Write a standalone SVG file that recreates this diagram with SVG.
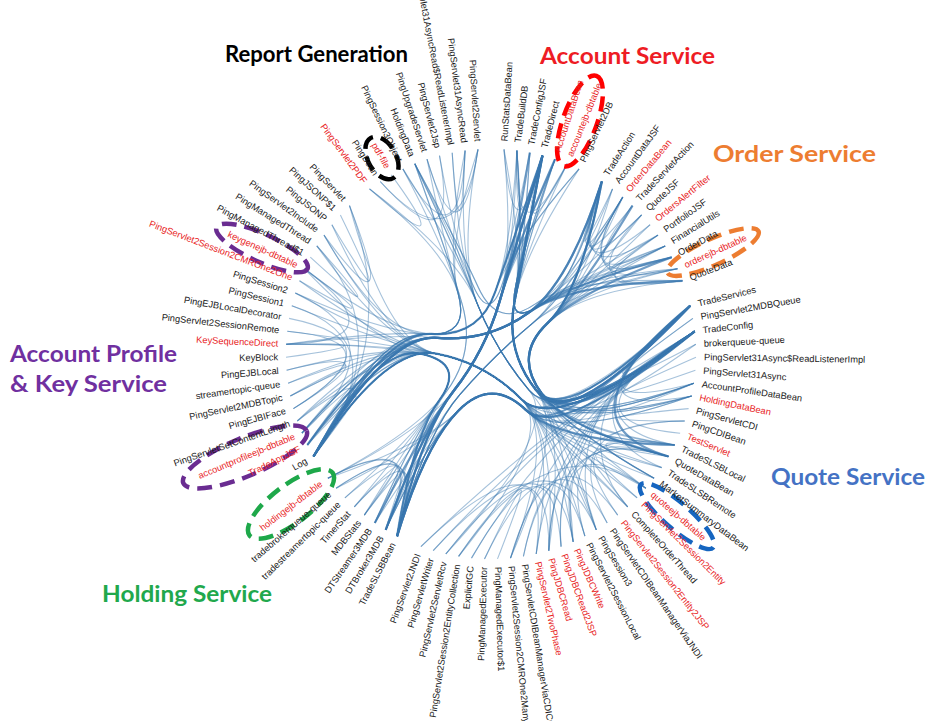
<svg xmlns="http://www.w3.org/2000/svg" width="930" height="721" viewBox="0 0 930 721">
<style>
.lb{font-family:"Liberation Sans",Arial,Helvetica,sans-serif;font-size:9.3px;fill:#1a1a1a}
.rd{fill:#e8231e}
.f{text-anchor:end}
.ttl{font-family:Lato,"Liberation Sans",sans-serif;font-weight:700;font-size:23px}
#links path{fill:none;stroke:#3a77b0;stroke-opacity:.45;stroke-width:1.1}
#links path.t{stroke-width:2.2;stroke-opacity:.72}
.ring{fill:none;stroke-width:4.5;stroke-dasharray:15 8}
</style>
<rect width="930" height="721" fill="#fff"/>
<g id="links">
<path d="M504,149.4 Q513.6,266.9 542.5,155.6"/>
<path d="M516.9,150.6 Q513.6,266.9 542.5,155.6"/>
<path d="M542.5,155.6 Q513.6,266.9 555,159.2"/>
<path d="M542.5,155.6 Q513.6,266.9 567.2,163.7"/>
<path d="M516.9,150.6 Q513.6,266.9 567.2,163.7"/>
<path d="M601.8,181.5 Q560.9,297.3 622.8,197"/>
<path d="M601.8,181.5 Q560.9,297.3 612.5,188.9"/>
<path d="M601.8,181.5 Q560.9,297.3 632.5,205.6"/>
<path d="M601.8,181.5 Q560.9,297.3 641.6,214.9"/>
<path d="M601.8,181.5 Q560.9,297.3 650.1,224.7"/>
<path d="M601.8,181.5 Q560.9,297.3 658,235.1"/>
<path d="M658,235.1 Q560.9,297.3 682.5,280.8"/>
<path d="M622.8,197 Q560.9,297.3 671.7,257.2"/>
<path d="M622.8,197 Q560.9,297.3 677.5,268.8"/>
<path d="M658,235.1 Q560.9,297.3 665.2,245.9"/>
<path d="M641.6,214.9 Q560.9,297.3 682.5,280.8"/>
<path d="M632.5,205.6 Q560.9,297.3 665.2,245.9"/>
<path d="M692.9,318.4 Q551,421.1 695.8,344.2"/>
<path d="M692.9,318.4 Q551,421.1 694.7,331.3"/>
<path d="M696,357.3 Q551,421.1 695.4,370.2"/>
<path d="M688.6,408.6 Q551,421.1 684.7,421"/>
<path d="M607.2,522.9 Q551,421.1 684.7,421"/>
<path d="M523.4,556.4 Q551,421.1 684.7,421"/>
<path d="M637.1,497.8 Q551,421.1 645.9,488.2"/>
<path d="M617.7,515.1 Q551,421.1 668.5,456.5"/>
<path d="M584.9,536.2 Q551,421.1 674.7,445"/>
<path d="M573.2,541.8 Q551,421.1 694.7,331.3"/>
<path d="M561.1,546.6 Q551,421.1 694.7,331.3"/>
<path d="M548.8,550.7 Q551,421.1 694.7,331.3"/>
<path d="M561.1,546.6 Q551,421.1 668.5,456.5"/>
<path d="M548.8,550.7 Q551,421.1 668.5,456.5"/>
<path d="M573.2,541.8 Q551,421.1 645.9,488.2"/>
<path d="M536.2,554 Q551,421.1 694.7,331.3"/>
<path d="M510.5,558.1 Q551,421.1 694.7,331.3"/>
<path d="M497.5,558.9 Q551,421.1 484.5,558.9"/>
<path d="M458.6,556.4 Q551,421.1 645.9,488.2"/>
<path d="M445.8,554 Q551,421.1 694.7,331.3"/>
<path d="M674.7,445 Q551,421.1 690.2,305.7"/>
<path d="M661.7,467.6 Q551,421.1 690.2,305.7"/>
<path d="M627.7,506.8 Q551,421.1 690.2,305.7"/>
<path d="M654.1,478.2 Q551,421.1 668.5,456.5"/>
<path d="M690.2,305.7 Q551,421.1 693.9,383.2"/>
<path d="M690.2,305.7 Q551,421.1 691.7,396"/>
<path class="t" d="M690.2,305.7 Q551,421.1 668.5,456.5"/>
<path d="M680.1,433.2 Q551,421.1 694.7,331.3"/>
<path d="M596.3,529.9 Q551,421.1 690.2,305.7"/>
<path d="M471.5,558.1 Q551,421.1 694.7,331.3"/>
<path d="M433.2,550.7 Q551,421.1 694.7,331.3"/>
<path d="M420.9,546.6 Q551,421.1 694.7,331.3"/>
<path d="M484.5,558.9 Q551,421.1 584.9,536.2"/>
<path d="M471.5,558.1 Q551,421.1 561.1,546.6"/>
<path d="M445.8,554 Q551,421.1 596.3,529.9"/>
<path d="M433.2,550.7 Q551,421.1 573.2,541.8"/>
<path d="M420.9,546.6 Q551,421.1 548.8,550.7"/>
<path d="M458.6,556.4 Q551,421.1 536.2,554"/>
<path d="M510.5,558.1 Q551,421.1 607.2,522.9"/>
<path d="M523.4,556.4 Q551,421.1 617.7,515.1"/>
<path d="M327.9,478.2 Q433.1,422.9 397.1,536.2"/>
<path d="M336.1,488.2 Q433.1,422.9 385.7,529.9"/>
<path d="M344.9,497.8 Q433.1,422.9 374.8,522.9"/>
<path d="M327.9,478.2 Q433.1,422.9 385.7,529.9"/>
<path d="M336.1,488.2 Q433.1,422.9 397.1,536.2"/>
<path d="M385.7,529.9 Q433.1,422.9 364.3,515.1"/>
<path d="M364.3,515.1 Q433.1,422.9 354.3,506.8"/>
<path d="M354.3,506.8 Q433.1,422.9 397.1,536.2"/>
<path d="M290.3,396 Q401.9,341.2 288.1,383.2"/>
<path d="M293.4,408.6 Q401.9,341.2 286.6,370.2"/>
<path d="M293.4,408.6 Q401.9,341.2 289.1,318.4"/>
<path d="M293.4,408.6 Q401.9,341.2 287.3,331.3"/>
<path d="M286,357.3 Q401.9,341.2 286.2,344.2"/>
<path d="M286.2,344.2 Q401.9,341.2 304.5,268.8"/>
<path d="M310.3,257.2 Q401.9,341.2 316.8,245.9"/>
<path d="M331.9,224.7 Q401.9,341.2 340.4,214.9"/>
<path d="M299.5,280.8 Q401.9,341.2 304.5,268.8"/>
<path d="M324,235.1 Q401.9,341.2 349.5,205.6"/>
<path d="M313.5,456.5 Q401.9,341.2 297.3,421"/>
<path d="M313.5,456.5 Q401.9,341.2 307.3,445"/>
<path d="M313.5,456.5 Q401.9,341.2 291.8,305.7"/>
<path d="M313.5,456.5 Q401.9,341.2 349.5,205.6"/>
<path d="M313.5,456.5 Q401.9,341.2 316.8,245.9"/>
<path d="M301.9,433.2 Q401.9,341.2 295.3,293.1"/>
<path d="M369.5,188.9 Q460.2,269.4 391.3,174.9"/>
<path d="M380.2,181.5 Q460.2,269.4 439.5,155.6"/>
<path d="M380.2,181.5 Q460.2,269.4 478,149.4"/>
<path d="M452.2,152.7 Q460.2,269.4 465.1,150.6"/>
<path d="M402.9,168.9 Q460.2,269.4 465.1,150.6"/>
<path d="M427,159.2 Q460.2,269.4 478,149.4"/>
<path d="M542.5,155.6 Q524.6,242.5 515.7,286 Q506.8,329.4 542.7,303.3 Q578.5,277.1 622.8,197"/>
<path d="M542.5,155.6 Q524.6,242.5 515.7,286 Q506.8,329.4 542.7,303.3 Q578.5,277.1 665.2,245.9"/>
<path d="M542.5,155.6 Q524.6,242.5 515.7,286 Q506.8,329.4 542.7,303.3 Q578.5,277.1 677.5,268.8"/>
<path d="M529.8,152.7 Q524.6,242.5 515.7,286 Q506.8,329.4 542.7,303.3 Q578.5,277.1 601.8,181.5"/>
<path d="M555,159.2 Q524.6,242.5 515.7,286 Q506.8,329.4 542.7,303.3 Q578.5,277.1 612.5,188.9"/>
<path d="M516.9,150.6 Q524.6,242.5 515.7,286 Q506.8,329.4 542.7,303.3 Q578.5,277.1 601.8,181.5"/>
<path d="M555,159.2 Q524.6,242.5 515.7,286 Q506.8,329.4 542.7,303.3 Q578.5,277.1 671.7,257.2"/>
<path class="t" d="M542.5,155.6 Q523.8,253.1 514.5,301.9 Q505.1,350.6 535.8,389.7 Q566.4,428.7 694.7,331.3"/>
<path class="t" d="M542.5,155.6 Q523.8,253.1 514.5,301.9 Q505.1,350.6 535.8,389.7 Q566.4,428.7 668.5,456.5"/>
<path d="M542.5,155.6 Q523.8,253.1 514.5,301.9 Q505.1,350.6 535.8,389.7 Q566.4,428.7 691.7,396"/>
<path d="M542.5,155.6 Q523.8,253.1 514.5,301.9 Q505.1,350.6 535.8,389.7 Q566.4,428.7 693.9,383.2"/>
<path d="M542.5,155.6 Q523.8,253.1 514.5,301.9 Q505.1,350.6 535.8,389.7 Q566.4,428.7 654.1,478.2"/>
<path d="M542.5,155.6 Q523.8,253.1 514.5,301.9 Q505.1,350.6 535.8,389.7 Q566.4,428.7 645.9,488.2"/>
<path class="t" d="M542.5,155.6 Q523.8,253.1 514.5,301.9 Q505.1,350.6 535.8,389.7 Q566.4,428.7 690.2,305.7"/>
<path d="M542.5,155.6 Q523.8,253.1 514.5,301.9 Q505.1,350.6 535.8,389.7 Q566.4,428.7 627.7,506.8"/>
<path d="M529.8,152.7 Q523.8,253.1 514.5,301.9 Q505.1,350.6 535.8,389.7 Q566.4,428.7 694.7,331.3"/>
<path d="M555,159.2 Q523.8,253.1 514.5,301.9 Q505.1,350.6 535.8,389.7 Q566.4,428.7 690.2,305.7"/>
<path d="M567.2,163.7 Q523.8,253.1 514.5,301.9 Q505.1,350.6 535.8,389.7 Q566.4,428.7 674.7,445"/>
<path d="M516.9,150.6 Q523.8,253.1 514.5,301.9 Q505.1,350.6 535.8,389.7 Q566.4,428.7 694.7,331.3"/>
<path d="M516.9,150.6 Q523.8,253.1 514.5,301.9 Q505.1,350.6 535.8,389.7 Q566.4,428.7 690.2,305.7"/>
<path d="M504,149.4 Q523.8,253.1 514.5,301.9 Q505.1,350.6 535.8,389.7 Q566.4,428.7 694.7,331.3"/>
<path d="M579.1,168.9 Q523.8,253.1 514.5,301.9 Q505.1,350.6 535.8,389.7 Q566.4,428.7 694.7,331.3"/>
<path d="M555,159.2 Q523.8,253.1 514.5,301.9 Q505.1,350.6 535.8,389.7 Q566.4,428.7 693.9,383.2"/>
<path d="M542.5,155.6 Q523.8,253.1 514.5,301.9 Q505.1,350.6 535.8,389.7 Q566.4,428.7 548.8,550.7"/>
<path d="M542.5,155.6 Q523.8,253.1 514.5,301.9 Q505.1,350.6 535.8,389.7 Q566.4,428.7 573.2,541.8"/>
<path d="M542.5,155.6 Q523.8,253.1 514.5,301.9 Q505.1,350.6 535.8,389.7 Q566.4,428.7 596.3,529.9"/>
<path d="M516.9,150.6 Q523.8,253.1 514.5,301.9 Q505.1,350.6 535.8,389.7 Q566.4,428.7 510.5,558.1"/>
<path class="t" d="M542.5,155.6 Q513.7,253.2 499.4,302.1 Q485,350.9 453.6,391 Q422.1,431 397.1,536.2"/>
<path class="t" d="M542.5,155.6 Q513.7,253.2 499.4,302.1 Q485,350.9 453.6,391 Q422.1,431 385.7,529.9"/>
<path class="t" d="M542.5,155.6 Q513.7,253.2 499.4,302.1 Q485,350.9 453.6,391 Q422.1,431 374.8,522.9"/>
<path d="M542.5,155.6 Q513.7,253.2 499.4,302.1 Q485,350.9 453.6,391 Q422.1,431 327.9,478.2"/>
<path d="M567.2,163.7 Q513.7,253.2 499.4,302.1 Q485,350.9 453.6,391 Q422.1,431 397.1,536.2"/>
<path class="t" d="M555,159.2 Q513.7,253.2 499.4,302.1 Q485,350.9 453.6,391 Q422.1,431 397.1,536.2"/>
<path d="M516.9,150.6 Q513.7,253.2 499.4,302.1 Q485,350.9 453.6,391 Q422.1,431 397.1,536.2"/>
<path d="M504,149.4 Q513.7,253.2 499.4,302.1 Q485,350.9 453.6,391 Q422.1,431 397.1,536.2"/>
<path class="t" d="M529.8,152.7 Q513.7,253.2 499.4,302.1 Q485,350.9 453.6,391 Q422.1,431 385.7,529.9"/>
<path d="M555,159.2 Q513.7,253.2 499.4,302.1 Q485,350.9 453.6,391 Q422.1,431 385.7,529.9"/>
<path d="M542.5,155.6 Q513.7,253.2 499.4,302.1 Q485,350.9 453.6,391 Q422.1,431 364.3,515.1"/>
<path class="t" d="M542.5,155.6 Q511,246.3 495.3,291.6 Q479.6,336.9 431.7,333.9 Q383.8,330.9 313.5,456.5"/>
<path d="M542.5,155.6 Q511,246.3 495.3,291.6 Q479.6,336.9 431.7,333.9 Q383.8,330.9 286.2,344.2"/>
<path d="M542.5,155.6 Q511,246.3 495.3,291.6 Q479.6,336.9 431.7,333.9 Q383.8,330.9 304.5,268.8"/>
<path d="M542.5,155.6 Q511,246.3 495.3,291.6 Q479.6,336.9 431.7,333.9 Q383.8,330.9 301.9,433.2"/>
<path d="M529.8,152.7 Q511,246.3 495.3,291.6 Q479.6,336.9 431.7,333.9 Q383.8,330.9 307.3,445"/>
<path d="M516.9,150.6 Q511,246.3 495.3,291.6 Q479.6,336.9 431.7,333.9 Q383.8,330.9 313.5,456.5"/>
<path d="M579.1,168.9 Q511,246.3 495.3,291.6 Q479.6,336.9 431.7,333.9 Q383.8,330.9 313.5,456.5"/>
<path d="M542.5,155.6 Q516,240.1 502.8,282.4 Q489.6,324.7 472.4,283.9 Q455.2,243 414.8,163.7"/>
<path d="M579.1,168.9 Q516,240.1 502.8,282.4 Q489.6,324.7 472.4,283.9 Q455.2,243 439.5,155.6"/>
<path class="t" d="M601.8,181.5 Q581.7,290.3 547.5,323.1 Q513.2,355.8 541.8,393.6 Q570.4,431.3 690.2,305.7"/>
<path class="t" d="M601.8,181.5 Q581.7,290.3 547.5,323.1 Q513.2,355.8 541.8,393.6 Q570.4,431.3 694.7,331.3"/>
<path d="M601.8,181.5 Q581.7,290.3 547.5,323.1 Q513.2,355.8 541.8,393.6 Q570.4,431.3 668.5,456.5"/>
<path d="M601.8,181.5 Q581.7,290.3 547.5,323.1 Q513.2,355.8 541.8,393.6 Q570.4,431.3 654.1,478.2"/>
<path d="M601.8,181.5 Q581.7,290.3 547.5,323.1 Q513.2,355.8 541.8,393.6 Q570.4,431.3 691.7,396"/>
<path d="M601.8,181.5 Q581.7,290.3 547.5,323.1 Q513.2,355.8 541.8,393.6 Q570.4,431.3 693.9,383.2"/>
<path class="t" d="M632.5,205.6 Q581.7,290.3 547.5,323.1 Q513.2,355.8 541.8,393.6 Q570.4,431.3 690.2,305.7"/>
<path class="t" d="M671.7,257.2 Q581.7,290.3 547.5,323.1 Q513.2,355.8 541.8,393.6 Q570.4,431.3 690.2,305.7"/>
<path d="M682.5,280.8 Q581.7,290.3 547.5,323.1 Q513.2,355.8 541.8,393.6 Q570.4,431.3 668.5,456.5"/>
<path d="M622.8,197 Q581.7,290.3 547.5,323.1 Q513.2,355.8 541.8,393.6 Q570.4,431.3 694.7,331.3"/>
<path d="M665.2,245.9 Q581.7,290.3 547.5,323.1 Q513.2,355.8 541.8,393.6 Q570.4,431.3 654.1,478.2"/>
<path d="M677.5,268.8 Q581.7,290.3 547.5,323.1 Q513.2,355.8 541.8,393.6 Q570.4,431.3 674.7,445"/>
<path d="M641.6,214.9 Q581.7,290.3 547.5,323.1 Q513.2,355.8 541.8,393.6 Q570.4,431.3 668.5,456.5"/>
<path d="M658,235.1 Q581.7,290.3 547.5,323.1 Q513.2,355.8 541.8,393.6 Q570.4,431.3 691.7,396"/>
<path d="M612.5,188.9 Q581.7,290.3 547.5,323.1 Q513.2,355.8 541.8,393.6 Q570.4,431.3 693.9,383.2"/>
<path d="M650.1,224.7 Q581.7,290.3 547.5,323.1 Q513.2,355.8 541.8,393.6 Q570.4,431.3 694.7,331.3"/>
<path d="M622.8,197 Q571.6,290.4 532.4,323.3 Q493.1,356.1 459.6,394.8 Q426.1,433.5 397.1,536.2"/>
<path d="M677.5,268.8 Q571.6,290.4 532.4,323.3 Q493.1,356.1 459.6,394.8 Q426.1,433.5 397.1,536.2"/>
<path d="M665.2,245.9 Q571.6,290.4 532.4,323.3 Q493.1,356.1 459.6,394.8 Q426.1,433.5 397.1,536.2"/>
<path d="M601.8,181.5 Q571.6,290.4 532.4,323.3 Q493.1,356.1 459.6,394.8 Q426.1,433.5 397.1,536.2"/>
<path d="M622.8,197 Q571.6,290.4 532.4,323.3 Q493.1,356.1 459.6,394.8 Q426.1,433.5 385.7,529.9"/>
<path class="t" d="M601.8,181.5 Q569,283.4 528.4,312.8 Q487.7,342.1 437.8,337.8 Q387.9,333.4 313.5,456.5"/>
<path d="M665.2,245.9 Q569,283.4 528.4,312.8 Q487.7,342.1 437.8,337.8 Q387.9,333.4 313.5,456.5"/>
<path class="t" d="M671.7,257.2 Q569,283.4 528.4,312.8 Q487.7,342.1 437.8,337.8 Q387.9,333.4 313.5,456.5"/>
<path class="t" d="M682.5,280.8 Q569,283.4 528.4,312.8 Q487.7,342.1 437.8,337.8 Q387.9,333.4 313.5,456.5"/>
<path class="t" d="M601.8,181.5 Q569,283.4 528.4,312.8 Q487.7,342.1 437.8,337.8 Q387.9,333.4 307.3,445"/>
<path d="M658,235.1 Q569,283.4 528.4,312.8 Q487.7,342.1 437.8,337.8 Q387.9,333.4 307.3,445"/>
<path d="M641.6,214.9 Q569,283.4 528.4,312.8 Q487.7,342.1 437.8,337.8 Q387.9,333.4 307.3,445"/>
<path d="M677.5,268.8 Q569,283.4 528.4,312.8 Q487.7,342.1 437.8,337.8 Q387.9,333.4 301.9,433.2"/>
<path d="M671.7,257.2 Q569,283.4 528.4,312.8 Q487.7,342.1 437.8,337.8 Q387.9,333.4 301.9,433.2"/>
<path d="M682.5,280.8 Q569,283.4 528.4,312.8 Q487.7,342.1 437.8,337.8 Q387.9,333.4 297.3,421"/>
<path d="M677.5,268.8 Q569,283.4 528.4,312.8 Q487.7,342.1 437.8,337.8 Q387.9,333.4 286.2,344.2"/>
<path d="M622.8,197 Q569,283.4 528.4,312.8 Q487.7,342.1 437.8,337.8 Q387.9,333.4 313.5,456.5"/>
<path d="M671.7,257.2 Q573.9,277.3 535.8,303.6 Q497.7,329.9 478.5,287.8 Q459.2,245.6 414.8,163.7"/>
<path d="M682.5,280.8 Q573.9,277.3 535.8,303.6 Q497.7,329.9 478.5,287.8 Q459.2,245.6 414.8,163.7"/>
<path class="t" d="M690.2,305.7 Q559.5,442 525.5,409.6 Q491.4,377.2 458.4,410.7 Q425.3,444.1 397.1,536.2"/>
<path class="t" d="M694.7,331.3 Q559.5,442 525.5,409.6 Q491.4,377.2 458.4,410.7 Q425.3,444.1 397.1,536.2"/>
<path d="M668.5,456.5 Q559.5,442 525.5,409.6 Q491.4,377.2 458.4,410.7 Q425.3,444.1 397.1,536.2"/>
<path d="M691.7,396 Q559.5,442 525.5,409.6 Q491.4,377.2 458.4,410.7 Q425.3,444.1 397.1,536.2"/>
<path d="M693.9,383.2 Q559.5,442 525.5,409.6 Q491.4,377.2 458.4,410.7 Q425.3,444.1 397.1,536.2"/>
<path d="M654.1,478.2 Q559.5,442 525.5,409.6 Q491.4,377.2 458.4,410.7 Q425.3,444.1 397.1,536.2"/>
<path class="t" d="M674.7,445 Q559.5,442 525.5,409.6 Q491.4,377.2 458.4,410.7 Q425.3,444.1 397.1,536.2"/>
<path d="M661.7,467.6 Q559.5,442 525.5,409.6 Q491.4,377.2 458.4,410.7 Q425.3,444.1 397.1,536.2"/>
<path d="M645.9,488.2 Q559.5,442 525.5,409.6 Q491.4,377.2 458.4,410.7 Q425.3,444.1 397.1,536.2"/>
<path d="M694.7,331.3 Q559.5,442 525.5,409.6 Q491.4,377.2 458.4,410.7 Q425.3,444.1 385.7,529.9"/>
<path d="M674.7,445 Q559.5,442 525.5,409.6 Q491.4,377.2 458.4,410.7 Q425.3,444.1 385.7,529.9"/>
<path d="M694.7,331.3 Q559.5,442 525.5,409.6 Q491.4,377.2 458.4,410.7 Q425.3,444.1 374.8,522.9"/>
<path d="M691.7,396 Q559.5,442 525.5,409.6 Q491.4,377.2 458.4,410.7 Q425.3,444.1 327.9,478.2"/>
<path d="M695.8,344.2 Q559.5,442 525.5,409.6 Q491.4,377.2 458.4,410.7 Q425.3,444.1 336.1,488.2"/>
<path d="M627.7,506.8 Q559.5,442 525.5,409.6 Q491.4,377.2 458.4,410.7 Q425.3,444.1 385.7,529.9"/>
<path d="M690.2,305.7 Q556.8,435 521.4,399.2 Q486,363.3 436.5,353.7 Q387,344 313.5,456.5"/>
<path class="t" d="M694.7,331.3 Q556.8,435 521.4,399.2 Q486,363.3 436.5,353.7 Q387,344 313.5,456.5"/>
<path d="M674.7,445 Q556.8,435 521.4,399.2 Q486,363.3 436.5,353.7 Q387,344 313.5,456.5"/>
<path d="M627.7,506.8 Q556.8,435 521.4,399.2 Q486,363.3 436.5,353.7 Q387,344 313.5,456.5"/>
<path d="M690.2,305.7 Q556.8,435 521.4,399.2 Q486,363.3 436.5,353.7 Q387,344 307.3,445"/>
<path d="M694.7,331.3 Q556.8,435 521.4,399.2 Q486,363.3 436.5,353.7 Q387,344 307.3,445"/>
<path d="M693.9,383.2 Q556.8,435 521.4,399.2 Q486,363.3 436.5,353.7 Q387,344 301.9,433.2"/>
<path d="M694.7,331.3 Q556.8,435 521.4,399.2 Q486,363.3 436.5,353.7 Q387,344 286.2,344.2"/>
<path d="M661.7,467.6 Q556.8,435 521.4,399.2 Q486,363.3 436.5,353.7 Q387,344 287.3,331.3"/>
<path d="M694.7,331.3 Q556.8,435 521.4,399.2 Q486,363.3 436.5,353.7 Q387,344 290.3,396"/>
<path d="M694.7,331.3 Q556.8,435 521.4,399.2 Q486,363.3 436.5,353.7 Q387,344 297.3,421"/>
<path d="M694.7,331.3 Q556.8,435 521.4,399.2 Q486,363.3 436.5,353.7 Q387,344 299.5,280.8"/>
<path d="M694.7,331.3 Q556.8,435 521.4,399.2 Q486,363.3 436.5,353.7 Q387,344 324,235.1"/>
<path d="M694.7,331.3 Q556.8,435 521.4,399.2 Q486,363.3 436.5,353.7 Q387,344 349.5,205.6"/>
<path d="M694.7,331.3 Q556.8,435 521.4,399.2 Q486,363.3 436.5,353.7 Q387,344 331.9,224.7"/>
<path d="M694.7,331.3 Q556.8,435 521.4,399.2 Q486,363.3 436.5,353.7 Q387,344 316.8,245.9"/>
<path d="M573.2,541.8 Q556.8,435 521.4,399.2 Q486,363.3 436.5,353.7 Q387,344 313.5,456.5"/>
<path d="M548.8,550.7 Q556.8,435 521.4,399.2 Q486,363.3 436.5,353.7 Q387,344 313.5,456.5"/>
<path d="M596.3,529.9 Q556.8,435 521.4,399.2 Q486,363.3 436.5,353.7 Q387,344 313.5,456.5"/>
<path d="M536.2,554 Q556.8,435 521.4,399.2 Q486,363.3 436.5,353.7 Q387,344 313.5,456.5"/>
<path d="M510.5,558.1 Q556.8,435 521.4,399.2 Q486,363.3 436.5,353.7 Q387,344 313.5,456.5"/>
<path d="M458.6,556.4 Q556.8,435 521.4,399.2 Q486,363.3 436.5,353.7 Q387,344 313.5,456.5"/>
<path d="M674.7,445 Q556.8,435 521.4,399.2 Q486,363.3 436.5,353.7 Q387,344 286.6,370.2"/>
<path d="M584.9,536.2 Q556.8,435 521.4,399.2 Q486,363.3 436.5,353.7 Q387,344 291.8,305.7"/>
<path d="M637.1,497.8 Q556.8,435 521.4,399.2 Q486,363.3 436.5,353.7 Q387,344 295.3,293.1"/>
<path d="M596.3,529.9 Q561.8,428.9 528.9,390 Q496,351 477.2,303.6 Q458.4,256.2 402.9,168.9"/>
<path d="M445.8,554 Q561.8,428.9 528.9,390 Q496,351 477.2,303.6 Q458.4,256.2 478,149.4"/>
<path d="M694.7,331.3 Q561.8,428.9 528.9,390 Q496,351 477.2,303.6 Q458.4,256.2 369.5,188.9"/>
<path d="M694.7,331.3 Q561.8,428.9 528.9,390 Q496,351 477.2,303.6 Q458.4,256.2 427,159.2"/>
<path d="M694.7,331.3 Q561.8,428.9 528.9,390 Q496,351 477.2,303.6 Q458.4,256.2 465.1,150.6"/>
<path d="M691.7,396 Q561.8,428.9 528.9,390 Q496,351 477.2,303.6 Q458.4,256.2 414.8,163.7"/>
<path d="M690.2,305.7 Q561.8,428.9 528.9,390 Q496,351 477.2,303.6 Q458.4,256.2 414.8,163.7"/>
<path d="M694.7,331.3 Q561.8,428.9 528.9,390 Q496,351 477.2,303.6 Q458.4,256.2 452.2,152.7"/>
<path class="t" d="M397.1,536.2 Q412.5,437.3 439.2,400.5 Q465.9,363.6 421.4,353.9 Q376.9,344.2 313.5,456.5"/>
<path d="M397.1,536.2 Q412.5,437.3 439.2,400.5 Q465.9,363.6 421.4,353.9 Q376.9,344.2 286.2,344.2"/>
<path d="M397.1,536.2 Q412.5,437.3 439.2,400.5 Q465.9,363.6 421.4,353.9 Q376.9,344.2 304.5,268.8"/>
<path d="M397.1,536.2 Q412.5,437.3 439.2,400.5 Q465.9,363.6 421.4,353.9 Q376.9,344.2 301.9,433.2"/>
<path d="M385.7,529.9 Q412.5,437.3 439.2,400.5 Q465.9,363.6 421.4,353.9 Q376.9,344.2 313.5,456.5"/>
<path d="M374.8,522.9 Q412.5,437.3 439.2,400.5 Q465.9,363.6 421.4,353.9 Q376.9,344.2 313.5,456.5"/>
<path d="M364.3,515.1 Q412.5,437.3 439.2,400.5 Q465.9,363.6 421.4,353.9 Q376.9,344.2 313.5,456.5"/>
<path d="M354.3,506.8 Q412.5,437.3 439.2,400.5 Q465.9,363.6 421.4,353.9 Q376.9,344.2 313.5,456.5"/>
<path d="M374.8,522.9 Q412.5,437.3 439.2,400.5 Q465.9,363.6 421.4,353.9 Q376.9,344.2 288.1,383.2"/>
<path d="M344.9,497.8 Q412.5,437.3 439.2,400.5 Q465.9,363.6 421.4,353.9 Q376.9,344.2 290.3,396"/>
<path d="M397.1,536.2 Q417.5,431.2 446.7,391.3 Q475.8,351.3 462.1,303.9 Q448.3,256.4 414.8,163.7"/>
<path d="M327.9,478.2 Q417.5,431.2 446.7,391.3 Q475.8,351.3 462.1,303.9 Q448.3,256.4 414.8,163.7"/>
<path d="M313.5,456.5 Q379.3,331.1 424.9,334.3 Q470.5,337.4 458.1,293.4 Q445.7,249.4 369.5,188.9"/>
<path d="M313.5,456.5 Q379.3,331.1 424.9,334.3 Q470.5,337.4 458.1,293.4 Q445.7,249.4 427,159.2"/>
<path d="M324,235.1 Q379.3,331.1 424.9,334.3 Q470.5,337.4 458.1,293.4 Q445.7,249.4 478,149.4"/>
<path d="M295.3,293.1 Q379.3,331.1 424.9,334.3 Q470.5,337.4 458.1,293.4 Q445.7,249.4 402.9,168.9"/>
<path d="M313.5,456.5 Q379.3,331.1 424.9,334.3 Q470.5,337.4 458.1,293.4 Q445.7,249.4 465.1,150.6"/>
</g>
<g id="groups">
<ellipse class="ring" cx="382" cy="158" rx="23" ry="14" transform="rotate(60.9 382 158)" stroke="#000"/>
<ellipse class="ring" cx="580" cy="121" rx="48" ry="17" transform="rotate(-70 580 121)" stroke="#ff0000"/>
<ellipse class="ring" cx="713" cy="252" rx="50" ry="13" transform="rotate(-24.5 713 252)" stroke="#ed7d31"/>
<ellipse class="ring" cx="677" cy="516" rx="48" ry="13" transform="rotate(41 677 516)" stroke="#1565c0"/>
<ellipse class="ring" cx="291" cy="504" rx="52" ry="19" transform="rotate(-37 291 504)" stroke="#1ea84a"/>
<ellipse class="ring" cx="245" cy="457" rx="67" ry="19" transform="rotate(-23 245 457)" stroke="#6a2c91"/>
<ellipse class="ring" cx="262" cy="248" rx="50" ry="14" transform="rotate(24.5 262 248)" stroke="#6a2c91"/>
</g>
<g id="titles">
<text class="ttl" x="225" y="62" fill="#000" textLength="183" lengthAdjust="spacingAndGlyphs">Report Generation</text>
<text class="ttl" x="540" y="64" fill="#ee1c24" textLength="175" lengthAdjust="spacingAndGlyphs">Account Service</text>
<text class="ttl" x="713" y="162" fill="#ed7d31" textLength="163" lengthAdjust="spacingAndGlyphs">Order Service</text>
<text class="ttl" x="771" y="485" fill="#4472c4" textLength="154" lengthAdjust="spacingAndGlyphs">Quote Service</text>
<text class="ttl" x="102" y="602" fill="#21a84c" textLength="170" lengthAdjust="spacingAndGlyphs">Holding Service</text>
<text class="ttl" x="10" y="362" fill="#7030a0" textLength="167" lengthAdjust="spacingAndGlyphs">Account Profile</text>
<text class="ttl" x="10" y="392" fill="#7030a0" textLength="157" lengthAdjust="spacingAndGlyphs">&amp; Key Service</text>
</g>
<g id="nodes">
<g id="n-RunStatsDataBean"><text class="lb" dy=".31em" transform="translate(491 354) rotate(-86.36) translate(213)">RunStatsDataBean</text></g>
<g id="n-TradeBuildDB"><text class="lb" dy=".31em" transform="translate(491 354) rotate(-82.73) translate(213)">TradeBuildDB</text></g>
<g id="n-TradeConfigJSF"><text class="lb" dy=".31em" transform="translate(491 354) rotate(-79.09) translate(213)">TradeConfigJSF</text></g>
<g id="n-TradeDirect"><text class="lb" dy=".31em" transform="translate(491 354) rotate(-75.45) translate(213)">TradeDirect</text></g>
<g id="n-AccountDataBean"><text class="lb rd" dy=".31em" transform="translate(491 354) rotate(-71.82) translate(213)">AccountDataBean</text></g>
<g id="n-accountejb-dbtable"><text class="lb rd" dy=".31em" transform="translate(491 354) rotate(-68.18) translate(213)">accountejb-dbtable</text></g>
<g id="n-PingServlet2DB"><text class="lb" dy=".31em" transform="translate(491 354) rotate(-64.55) translate(213)">PingServlet2DB</text></g>
<g id="n-TradeAction"><text class="lb" dy=".31em" transform="translate(491 354) rotate(-57.27) translate(213)">TradeAction</text></g>
<g id="n-AccountDataJSF"><text class="lb" dy=".31em" transform="translate(491 354) rotate(-53.64) translate(213)">AccountDataJSF</text></g>
<g id="n-OrderDataBean"><text class="lb rd" dy=".31em" transform="translate(491 354) rotate(-50) translate(213)">OrderDataBean</text></g>
<g id="n-TradeServletAction"><text class="lb" dy=".31em" transform="translate(491 354) rotate(-46.36) translate(213)">TradeServletAction</text></g>
<g id="n-QuoteJSF"><text class="lb" dy=".31em" transform="translate(491 354) rotate(-42.73) translate(213)">QuoteJSF</text></g>
<g id="n-OrdersAlertFilter"><text class="lb rd" dy=".31em" transform="translate(491 354) rotate(-39.09) translate(213)">OrdersAlertFilter</text></g>
<g id="n-PortfolioJSF"><text class="lb" dy=".31em" transform="translate(491 354) rotate(-35.45) translate(213)">PortfolioJSF</text></g>
<g id="n-FinancialUtils"><text class="lb" dy=".31em" transform="translate(491 354) rotate(-31.82) translate(213)">FinancialUtils</text></g>
<g id="n-OrderData"><text class="lb" dy=".31em" transform="translate(491 354) rotate(-28.18) translate(213)">OrderData</text></g>
<g id="n-orderejb-dbtable"><text class="lb rd" dy=".31em" transform="translate(491 354) rotate(-24.55) translate(213)">orderejb-dbtable</text></g>
<g id="n-QuoteData"><text class="lb" dy=".31em" transform="translate(491 354) rotate(-20.91) translate(213)">QuoteData</text></g>
<g id="n-TradeServices"><text class="lb" dy=".31em" transform="translate(491 354) rotate(-13.64) translate(213)">TradeServices</text></g>
<g id="n-PingServlet2MDBQueue"><text class="lb" dy=".31em" transform="translate(491 354) rotate(-10) translate(213)">PingServlet2MDBQueue</text></g>
<g id="n-TradeConfig"><text class="lb" dy=".31em" transform="translate(491 354) rotate(-6.36) translate(213)">TradeConfig</text></g>
<g id="n-brokerqueue-queue"><text class="lb" dy=".31em" transform="translate(491 354) rotate(-2.73) translate(213)">brokerqueue-queue</text></g>
<g id="n-PingServlet31Async-ReadListenerImpl"><text class="lb" dy=".31em" transform="translate(491 354) rotate(0.91) translate(213)">PingServlet31Async$ReadListenerImpl</text></g>
<g id="n-PingServlet31Async"><text class="lb" dy=".31em" transform="translate(491 354) rotate(4.55) translate(213)">PingServlet31Async</text></g>
<g id="n-AccountProfileDataBean"><text class="lb" dy=".31em" transform="translate(491 354) rotate(8.18) translate(213)">AccountProfileDataBean</text></g>
<g id="n-HoldingDataBean"><text class="lb rd" dy=".31em" transform="translate(491 354) rotate(11.82) translate(213)">HoldingDataBean</text></g>
<g id="n-PingServletCDI"><text class="lb" dy=".31em" transform="translate(491 354) rotate(15.45) translate(213)">PingServletCDI</text></g>
<g id="n-PingCDIBean"><text class="lb" dy=".31em" transform="translate(491 354) rotate(19.09) translate(213)">PingCDIBean</text></g>
<g id="n-TestServlet"><text class="lb rd" dy=".31em" transform="translate(491 354) rotate(22.73) translate(213)">TestServlet</text></g>
<g id="n-TradeSLSBLocal"><text class="lb" dy=".31em" transform="translate(491 354) rotate(26.36) translate(213)">TradeSLSBLocal</text></g>
<g id="n-QuoteDataBean"><text class="lb" dy=".31em" transform="translate(491 354) rotate(30) translate(213)">QuoteDataBean</text></g>
<g id="n-TradeSLSBRemote"><text class="lb" dy=".31em" transform="translate(491 354) rotate(33.64) translate(213)">TradeSLSBRemote</text></g>
<g id="n-MarketSummaryDataBean"><text class="lb" dy=".31em" transform="translate(491 354) rotate(37.27) translate(213)">MarketSummaryDataBean</text></g>
<g id="n-quoteejb-dbtable"><text class="lb rd" dy=".31em" transform="translate(491 354) rotate(40.91) translate(213)">quoteejb-dbtable</text></g>
<g id="n-PingServlet2Session2Entity"><text class="lb rd" dy=".31em" transform="translate(491 354) rotate(44.55) translate(213)">PingServlet2Session2Entity</text></g>
<g id="n-CompleteOrderThread"><text class="lb" dy=".31em" transform="translate(491 354) rotate(48.18) translate(213)">CompleteOrderThread</text></g>
<g id="n-PingServlet2Session2Entity2JSP"><text class="lb rd" dy=".31em" transform="translate(491 354) rotate(51.82) translate(213)">PingServlet2Session2Entity2JSP</text></g>
<g id="n-PingServletCDIBeanManagerViaJNDI"><text class="lb" dy=".31em" transform="translate(491 354) rotate(55.45) translate(213)">PingServletCDIBeanManagerViaJNDI</text></g>
<g id="n-PingSession3"><text class="lb" dy=".31em" transform="translate(491 354) rotate(59.09) translate(213)">PingSession3</text></g>
<g id="n-PingServlet2SessionLocal"><text class="lb" dy=".31em" transform="translate(491 354) rotate(62.73) translate(213)">PingServlet2SessionLocal</text></g>
<g id="n-PingJDBCWrite"><text class="lb rd" dy=".31em" transform="translate(491 354) rotate(66.36) translate(213)">PingJDBCWrite</text></g>
<g id="n-PingJDBCRead2JSP"><text class="lb rd" dy=".31em" transform="translate(491 354) rotate(70) translate(213)">PingJDBCRead2JSP</text></g>
<g id="n-PingJDBCRead"><text class="lb rd" dy=".31em" transform="translate(491 354) rotate(73.64) translate(213)">PingJDBCRead</text></g>
<g id="n-PingServlet2TwoPhase"><text class="lb rd" dy=".31em" transform="translate(491 354) rotate(77.27) translate(213)">PingServlet2TwoPhase</text></g>
<g id="n-PingServletCDIBeanManagerViaCDICurrent"><text class="lb" dy=".31em" transform="translate(491 354) rotate(80.91) translate(213)">PingServletCDIBeanManagerViaCDICurrent</text></g>
<g id="n-PingServlet2Session2CMROne2Many"><text class="lb" dy=".31em" transform="translate(491 354) rotate(84.55) translate(213)">PingServlet2Session2CMROne2Many</text></g>
<g id="n-PingManagedExecutor-1"><text class="lb" dy=".31em" transform="translate(491 354) rotate(88.18) translate(213)">PingManagedExecutor$1</text></g>
<g id="n-PingManagedExecutor"><text class="lb f" dy=".31em" transform="translate(491 354) rotate(91.82) translate(213) rotate(180)">PingManagedExecutor</text></g>
<g id="n-ExplicitGC"><text class="lb f" dy=".31em" transform="translate(491 354) rotate(95.45) translate(213) rotate(180)">ExplicitGC</text></g>
<g id="n-PingServlet2Session2EntityCollection"><text class="lb f" dy=".31em" transform="translate(491 354) rotate(99.09) translate(213) rotate(180)">PingServlet2Session2EntityCollection</text></g>
<g id="n-PingServlet2ServletRcv"><text class="lb f" dy=".31em" transform="translate(491 354) rotate(102.73) translate(213) rotate(180)">PingServlet2ServletRcv</text></g>
<g id="n-PingServletWriter"><text class="lb f" dy=".31em" transform="translate(491 354) rotate(106.36) translate(213) rotate(180)">PingServletWriter</text></g>
<g id="n-PingServlet2JNDI"><text class="lb f" dy=".31em" transform="translate(491 354) rotate(110) translate(213) rotate(180)">PingServlet2JNDI</text></g>
<g id="n-TradeSLSBBean"><text class="lb f" dy=".31em" transform="translate(491 354) rotate(117.27) translate(213) rotate(180)">TradeSLSBBean</text></g>
<g id="n-DTBroker3MDB"><text class="lb f" dy=".31em" transform="translate(491 354) rotate(120.91) translate(213) rotate(180)">DTBroker3MDB</text></g>
<g id="n-DTStreamer3MDB"><text class="lb f" dy=".31em" transform="translate(491 354) rotate(124.55) translate(213) rotate(180)">DTStreamer3MDB</text></g>
<g id="n-MDBStats"><text class="lb f" dy=".31em" transform="translate(491 354) rotate(128.18) translate(213) rotate(180)">MDBStats</text></g>
<g id="n-TimerStat"><text class="lb f" dy=".31em" transform="translate(491 354) rotate(131.82) translate(213) rotate(180)">TimerStat</text></g>
<g id="n-tradestreamertopic-queue"><text class="lb f" dy=".31em" transform="translate(491 354) rotate(135.45) translate(213) rotate(180)">tradestreamertopic-queue</text></g>
<g id="n-tradebrokerqueue-queue"><text class="lb f" dy=".31em" transform="translate(491 354) rotate(139.09) translate(213) rotate(180)">tradebrokerqueue-queue</text></g>
<g id="n-holdingejb-dbtable"><text class="lb f rd" dy=".31em" transform="translate(491 354) rotate(142.73) translate(213) rotate(180)">holdingejb-dbtable</text></g>
<g id="n-Log"><text class="lb f" dy=".31em" transform="translate(491 354) rotate(150) translate(213) rotate(180)">Log</text></g>
<g id="n-TradeAppJSF"><text class="lb f rd" dy=".31em" transform="translate(491 354) rotate(153.64) translate(213) rotate(180)">TradeAppJSF</text></g>
<g id="n-accountprofileejb-dbtable"><text class="lb f rd" dy=".31em" transform="translate(491 354) rotate(157.27) translate(213) rotate(180)">accountprofileejb-dbtable</text></g>
<g id="n-PingServletSetContentLength"><text class="lb f" dy=".31em" transform="translate(491 354) rotate(160.91) translate(213) rotate(180)">PingServletSetContentLength</text></g>
<g id="n-PingEJBIFace"><text class="lb f" dy=".31em" transform="translate(491 354) rotate(164.55) translate(213) rotate(180)">PingEJBIFace</text></g>
<g id="n-PingServlet2MDBTopic"><text class="lb f" dy=".31em" transform="translate(491 354) rotate(168.18) translate(213) rotate(180)">PingServlet2MDBTopic</text></g>
<g id="n-streamertopic-queue"><text class="lb f" dy=".31em" transform="translate(491 354) rotate(171.82) translate(213) rotate(180)">streamertopic-queue</text></g>
<g id="n-PingEJBLocal"><text class="lb f" dy=".31em" transform="translate(491 354) rotate(175.45) translate(213) rotate(180)">PingEJBLocal</text></g>
<g id="n-KeyBlock"><text class="lb f" dy=".31em" transform="translate(491 354) rotate(179.09) translate(213) rotate(180)">KeyBlock</text></g>
<g id="n-KeySequenceDirect"><text class="lb f rd" dy=".31em" transform="translate(491 354) rotate(182.73) translate(213) rotate(180)">KeySequenceDirect</text></g>
<g id="n-PingServlet2SessionRemote"><text class="lb f" dy=".31em" transform="translate(491 354) rotate(186.36) translate(213) rotate(180)">PingServlet2SessionRemote</text></g>
<g id="n-PingEJBLocalDecorator"><text class="lb f" dy=".31em" transform="translate(491 354) rotate(190) translate(213) rotate(180)">PingEJBLocalDecorator</text></g>
<g id="n-PingSession1"><text class="lb f" dy=".31em" transform="translate(491 354) rotate(193.64) translate(213) rotate(180)">PingSession1</text></g>
<g id="n-PingSession2"><text class="lb f" dy=".31em" transform="translate(491 354) rotate(197.27) translate(213) rotate(180)">PingSession2</text></g>
<g id="n-PingServlet2Session2CMROne2One"><text class="lb f rd" dy=".31em" transform="translate(491 354) rotate(200.91) translate(213) rotate(180)">PingServlet2Session2CMROne2One</text></g>
<g id="n-keygenejb-dbtable"><text class="lb f rd" dy=".31em" transform="translate(491 354) rotate(204.55) translate(213) rotate(180)">keygenejb-dbtable</text></g>
<g id="n-PingManagedThread-1"><text class="lb f" dy=".31em" transform="translate(491 354) rotate(208.18) translate(213) rotate(180)">PingManagedThread$1</text></g>
<g id="n-PingManagedThread"><text class="lb f" dy=".31em" transform="translate(491 354) rotate(211.82) translate(213) rotate(180)">PingManagedThread</text></g>
<g id="n-PingServlet2Include"><text class="lb f" dy=".31em" transform="translate(491 354) rotate(215.45) translate(213) rotate(180)">PingServlet2Include</text></g>
<g id="n-PingJSONP"><text class="lb f" dy=".31em" transform="translate(491 354) rotate(219.09) translate(213) rotate(180)">PingJSONP</text></g>
<g id="n-PingJSONP-1"><text class="lb f" dy=".31em" transform="translate(491 354) rotate(222.73) translate(213) rotate(180)">PingJSONP$1</text></g>
<g id="n-PingServlet"><text class="lb f" dy=".31em" transform="translate(491 354) rotate(226.36) translate(213) rotate(180)">PingServlet</text></g>
<g id="n-PingServlet2PDF"><text class="lb f rd" dy=".31em" transform="translate(491 354) rotate(233.64) translate(213) rotate(180)">PingServlet2PDF</text></g>
<g id="n-PingBean"><text class="lb f" dy=".31em" transform="translate(491 354) rotate(237.27) translate(213) rotate(180)">PingBean</text></g>
<g id="n-pdf-file"><text class="lb f rd" dy=".31em" transform="translate(491 354) rotate(240.91) translate(213) rotate(180)">pdf-file</text></g>
<g id="n-PingSession3Object"><text class="lb f" dy=".31em" transform="translate(491 354) rotate(244.55) translate(213) rotate(180)">PingSession3Object</text></g>
<g id="n-HoldingData"><text class="lb f" dy=".31em" transform="translate(491 354) rotate(248.18) translate(213) rotate(180)">HoldingData</text></g>
<g id="n-PingUpgradeServlet"><text class="lb f" dy=".31em" transform="translate(491 354) rotate(251.82) translate(213) rotate(180)">PingUpgradeServlet</text></g>
<g id="n-PingServlet2Jsp"><text class="lb f" dy=".31em" transform="translate(491 354) rotate(255.45) translate(213) rotate(180)">PingServlet2Jsp</text></g>
<g id="n-PingServlet31AsyncRead-ReadListenerImpl"><text class="lb f" dy=".31em" transform="translate(491 354) rotate(259.09) translate(213) rotate(180)">PingServlet31AsyncRead$ReadListenerImpl</text></g>
<g id="n-PingServlet31AsyncRead"><text class="lb f" dy=".31em" transform="translate(491 354) rotate(262.73) translate(213) rotate(180)">PingServlet31AsyncRead</text></g>
<g id="n-PingServlet2Servlet"><text class="lb f" dy=".31em" transform="translate(491 354) rotate(266.36) translate(213) rotate(180)">PingServlet2Servlet</text></g>
</g>
</svg>
